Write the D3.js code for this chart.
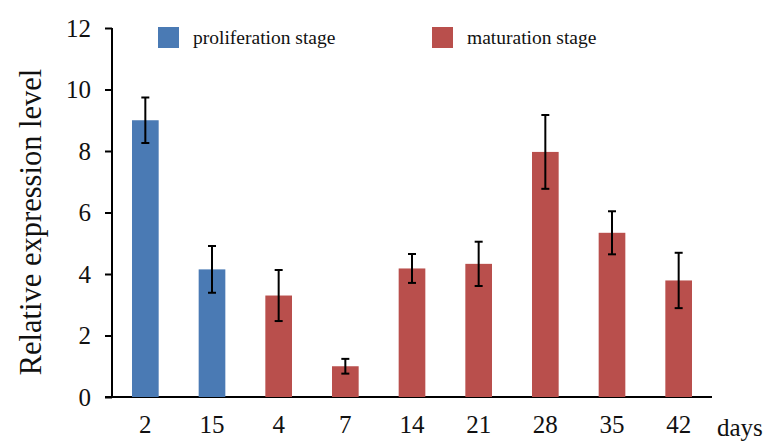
<!DOCTYPE html>
<html>
<head>
<meta charset="utf-8">
<script src="https://cdn.jsdelivr.net/npm/d3@7"></script>
<style>
  body { margin: 0; background: #fff; }
  svg text { font-family: 'Liberation Serif', 'Times New Roman', serif !important; }
</style>
</head>
<body>
<svg id="chart" width="771" height="446"></svg>
<script>
// data
const days = ['2', '15', '4', '7', '14', '21', '28', '35', '42'];
const stages = ['proliferation', 'proliferation', 'maturation', 'maturation', 'maturation',
  'maturation', 'maturation', 'maturation', 'maturation'];
const values = [9.0, 4.15, 3.3, 1.0, 4.18, 4.33, 7.97, 5.34, 3.79];
const errors = [0.74, 0.76, 0.83, 0.24, 0.47, 0.72, 1.2, 0.7, 0.9];
const yTicks = [0, 2, 4, 6, 8, 10, 12];
const legendLabels = ['proliferation stage', 'maturation stage'];

const colors = { proliferation: '#4a7ab4', maturation: '#b94f4c' };

const svg = d3.select('#chart');
const padding = { top: 28, right: 59, bottom: 49, left: 112 };
const width = +svg.attr('width');
const height = +svg.attr('height');

const data = days.map((d, i) => ({
  day: d,
  stage: stages[i],
  value: values[i],
  err: errors[i],
}));

//SCALE AND AXIS
const xScale = d3
  .scaleBand()
  .domain(days)
  .range([padding.left, width - padding.right])
  .paddingInner(0.6)
  .paddingOuter(0.3);

const yScale = d3
  .scaleLinear()
  .domain([0, 12])
  .range([height - padding.bottom, padding.top]);

const yAxis = d3.axisLeft(yScale).tickValues(yTicks).tickSize(7).tickPadding(14);
const gy = svg
  .append('g')
  .attr('transform', `translate(${padding.left},0)`)
  .call(yAxis);
gy.select('.domain').remove();
gy.selectAll('.tick line').attr('stroke', '#000').attr('stroke-width', 2);
gy.selectAll('.tick text').style('font-size', '25px').attr('fill', '#111');
gy.append('line')
  .attr('x1', 0).attr('x2', 0)
  .attr('y1', yScale(12)).attr('y2', yScale(0))
  .attr('stroke', '#000').attr('stroke-width', 2);

const xAxis = d3.axisBottom(xScale).tickSize(0).tickPadding(18);
const gx = svg
  .append('g')
  .attr('transform', `translate(0,${yScale(0)})`)
  .call(xAxis);
gx.select('.domain').remove();
gx.selectAll('.tick text').style('font-size', '25px').attr('fill', '#111');
gx.append('line')
  .attr('x1', padding.left - 7).attr('x2', width - padding.right)
  .attr('y1', 0).attr('y2', 0)
  .attr('stroke', '#000').attr('stroke-width', 2);

svg.append('text')
  .attr('x', 717)
  .attr('y', yScale(0) + 39)
  .style('font-size', '25px')
  .attr('fill', '#111')
  .text('days');

//BARS
svg.selectAll('.bar')
  .data(data)
  .enter()
  .append('rect')
  .classed('bar', true)
  .attr('x', (d) => xScale(d.day))
  .attr('width', xScale.bandwidth())
  .attr('y', (d) => yScale(d.value))
  .attr('height', (d) => yScale(0) - yScale(d.value))
  .attr('fill', (d) => colors[d.stage]);

//ERROR BARS
const errG = svg.selectAll('.err')
  .data(data)
  .enter()
  .append('g')
  .classed('err', true)
  .attr('stroke', '#000')
  .attr('stroke-width', 2);

const cx = (d) => xScale(d.day) + xScale.bandwidth() / 2;
errG.append('line')
  .attr('x1', cx).attr('x2', cx)
  .attr('y1', (d) => yScale(d.value + d.err))
  .attr('y2', (d) => yScale(d.value - d.err));
errG.append('line')
  .attr('x1', (d) => cx(d) - 4).attr('x2', (d) => cx(d) + 4)
  .attr('y1', (d) => yScale(d.value + d.err))
  .attr('y2', (d) => yScale(d.value + d.err));
errG.append('line')
  .attr('x1', (d) => cx(d) - 4).attr('x2', (d) => cx(d) + 4)
  .attr('y1', (d) => yScale(d.value - d.err))
  .attr('y2', (d) => yScale(d.value - d.err));

//Y LABEL
svg.append('text')
  .attr('transform', 'rotate(-90)')
  .attr('x', -222)
  .attr('y', 41)
  .style('text-anchor', 'middle')
  .style('font-size', '30.5px')
  .attr('fill', '#111')
  .text('Relative expression level');

//LEGEND
const legend = svg.selectAll('.legend')
  .data(legendLabels)
  .enter()
  .append('g')
  .classed('legend', true)
  .attr('transform', (d, i) => `translate(${i === 0 ? 158 : 432},27)`);

legend.append('rect')
  .attr('width', 21)
  .attr('height', 21)
  .attr('fill', (d, i) => (i === 0 ? colors.proliferation : colors.maturation));

legend.append('text')
  .attr('x', 35)
  .attr('y', 17)
  .style('font-size', '19.5px')
  .attr('fill', '#111')
  .text((d) => d);
</script>
</body>
</html>
